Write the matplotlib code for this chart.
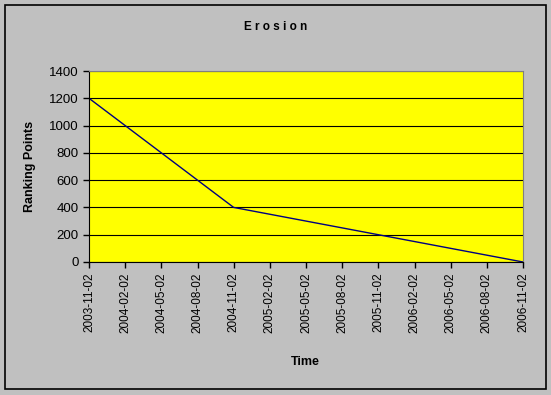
import matplotlib.pyplot as plt
from matplotlib.patches import Rectangle

plt.rcParams['font.family'] = ['Liberation Sans', 'DejaVu Sans']

dates = ['2003-11-02', '2004-02-02', '2004-05-02', '2004-08-02', '2004-11-02',
         '2005-02-02', '2005-05-02', '2005-08-02', '2005-11-02', '2006-02-02',
         '2006-05-02', '2006-08-02', '2006-11-02']
points = [1200, 1000, 800, 600, 400, 350, 300, 250, 200, 150, 100, 50, 0]

fig = plt.figure(figsize=(5.51, 3.95), dpi=100, facecolor='#C0C0C0')
# outer frame
fig.patches.append(Rectangle((5/551, 1-389/395), 541/551, 384/395,
                             transform=fig.transFigure, fill=False,
                             edgecolor='black', lw=1.2))

ax = fig.add_axes([89/551, 1-262/395, 434/551, 191/395])
ax.set_facecolor('#FFFF00')
x = list(range(len(dates)))
ax.plot(x, points, color='#000080', lw=1)

ax.set_xlim(0, len(dates)-1)
ax.set_ylim(0, 1400)
ax.set_yticks(range(0, 1401, 200))
ax.set_xticks(x)
ax.set_xticklabels(dates, rotation=90, fontsize=8.5)
ax.tick_params(axis='y', labelsize=9.5)
ax.tick_params(direction='out', length=4, width=1, color='black')
ax.yaxis.grid(True, color='black', lw=0.8)
ax.set_axisbelow(True)

for s in ['top', 'right']:
    ax.spines[s].set_color('#808080')
for s in ['left', 'bottom']:
    ax.spines[s].set_color('black')

fig.text(0.5, 1-27/395, 'E r o s i o n', ha='center', va='center',
         fontsize=8.5, fontweight='bold')
fig.text(30/551, 1-166/395, 'Ranking Points', ha='center', va='center',
         rotation=90, fontsize=9, fontweight='bold')
fig.text(305/551, 1-362/395, 'Time', ha='center', va='center',
         fontsize=9, fontweight='bold')

fig.savefig('out.png', dpi=100, facecolor=fig.get_facecolor())
